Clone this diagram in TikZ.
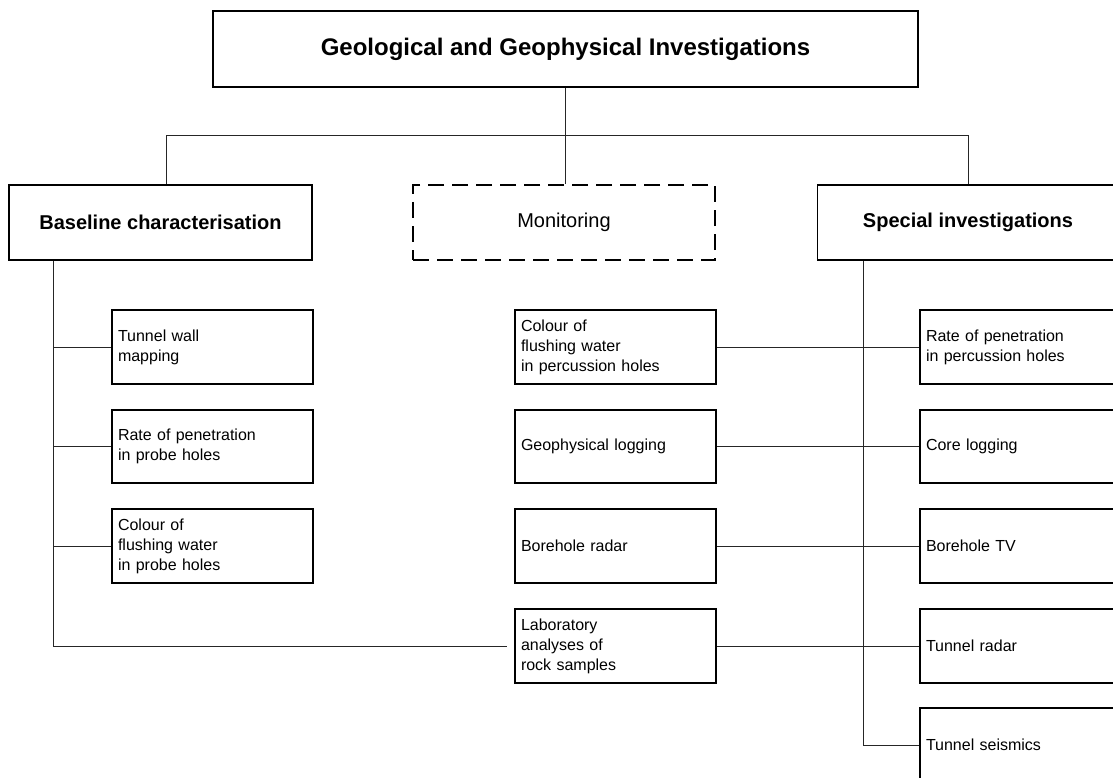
\documentclass[tikz,border=0pt]{standalone}
\usepackage{fontspec}
\setmainfont{Liberation Sans}
\begin{document}
\begin{tikzpicture}[x=1pt,y=-1pt,
  box/.style={draw=black, line width=1.8pt, rectangle, inner sep=0pt, fill=white},
  headbox/.style={box, minimum height=75pt, font=\fontsize{20}{24}\selectfont\bfseries},
  item/.style={draw=black, line width=1.6pt, rectangle, fill=white,
    minimum width=201pt, minimum height=73.5pt, text width=189pt,
    inner xsep=6pt, inner ysep=0pt, align=left, font=\fontsize{16}{20}\selectfont},
  link/.style={draw=black!85, line width=1pt}
]
\useasboundingbox (0,0) rectangle (1113,778);
\clip (0,0) rectangle (1113,778);

% top level
\node[box, minimum width=705pt, minimum height=76pt, font=\fontsize{24}{28}\selectfont\bfseries]
  (top) at (565.5,49) {Geological and Geophysical Investigations};

% second level
\node[headbox, minimum width=303pt] (base) at (160.5,222.5) {Baseline characterisation};
\node[box, dash pattern=on 16pt off 8pt, minimum width=302pt, minimum height=75pt,
  font=\fontsize{20}{24}\selectfont] (mon) at (564,222.5) {Monitoring};
\node[headbox, minimum width=301pt] (spec) at (968,222.5) {Special investigations};

% baseline characterisation methods
\node[item] (l1) at (212.5,347)   {Tunnel wall\\mapping};
\node[item] (l2) at (212.5,446.5) {Rate of penetration\\in probe holes};
\node[item] (l3) at (212.5,546)   {Colour of\\flushing water\\in probe holes};

% monitoring methods
\node[item] (m1) at (615.5,347)   {Colour of\\flushing water\\in percussion holes};
\node[item] (m2) at (615.5,446.5) {Geophysical logging};
\node[item] (m3) at (615.5,546)   {Borehole radar};
\node[item] (m4) at (615.5,646)   {Laboratory\\analyses of\\rock samples};

% special investigations
\node[item] (r1) at (1020.5,347)   {Rate of penetration\\in percussion holes};
\node[item] (r2) at (1020.5,446.5) {Core logging};
\node[item] (r3) at (1020.5,546)   {Borehole TV};
\node[item] (r4) at (1020.5,646)   {Tunnel radar};
\node[item] (r5) at (1020.5,745)   {Tunnel seismics};

% bus between the levels
\coordinate (busL) at (166,136);
\coordinate (lt) at (53,0);
\coordinate (rt) at (863,0);

\draw[link] (top.south) -- (top.south |- mon.north);
\draw[link] (busL |- base.north) -- (busL) -- (spec.north |- busL) -- (spec.north);

% left trunk
\draw[link] (lt |- base.south) -- (lt |- m4.west) -- ([xshift=-7pt]m4.west);
\foreach \n in {l1,l2,l3} \draw[link] (lt |- \n.west) -- (\n.west);

% right trunk
\draw[link] (rt |- spec.south) -- (rt |- r5.west) -- (r5.west);

% monitoring to special investigations
\draw[link] (m1.east) -- (r1.west);
\draw[link] (m2.east) -- (r2.west);
\draw[link] (m3.east) -- (r3.west);
\draw[link] (m4.east) -- (r4.west);
\end{tikzpicture}
\end{document}
